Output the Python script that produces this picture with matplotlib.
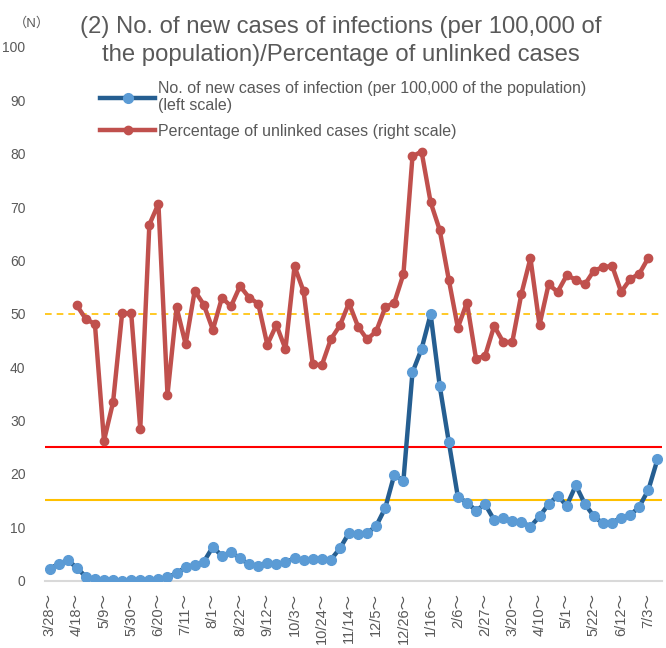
import numpy as np
import matplotlib
matplotlib.use('Agg')
import matplotlib.pyplot as plt
from matplotlib.lines import Line2D

plt.rcParams['font.family'] = ['Liberation Sans', 'Noto Sans CJK JP', 'DejaVu Sans']
plt.rcParams['font.size'] = 10

nan = np.nan

# new cases per 100,000 (left scale), weekly from 3/28
new_cases = [2.2, 3.1, 3.8, 2.4, 0.7, 0.3, 0.1, 0.1, 0.0, 0.05,
             0.1, 0.05, 0.2, 0.6, 1.35, 2.5, 2.9, 3.5, 6.3, 4.6,
             5.35, 4.15, 3.0, 2.8, 3.35, 3.0, 3.4, 4.15, 3.8, 4.0,
             4.1, 3.9, 6.0, 8.9, 8.65, 8.9, 10.2, 13.6, 19.85, 18.7,
             39.0, 43.4, 49.9, 36.5, 26.0, 15.7, 14.6, 13.1, 14.3, 11.35,
             11.65, 11.15, 11.0, 10.1, 12.0, 14.3, 15.9, 14.0, 17.85, 14.35,
             12.0, 10.7, 10.85, 11.8, 12.2, 13.85, 17.0, 22.7]

# percentage of unlinked cases (right scale)
unlinked_pct = [nan, nan, nan, 51.6, 49.0, 48.1, 26.2, 33.4, 50.1, 50.1,
                28.4, 66.7, 70.6, 34.8, 51.2, 44.3, 54.3, 51.7, 47.0, 53.0,
                51.4, 55.2, 53.0, 51.9, 44.2, 47.9, 43.4, 58.9, 54.2, 40.6,
                40.3, 45.2, 47.8, 52.0, 47.6, 45.2, 46.7, 51.2, 52.1, 57.4,
                79.5, 80.4, 70.9, 65.7, 56.4, 47.4, 52.1, 41.6, 42.1, 47.7,
                44.7, 44.7, 53.7, 60.4, 47.9, 55.5, 54.1, 57.2, 56.4, 55.5,
                58.1, 58.7, 59.0, 54.1, 56.5, 57.5, 60.5, nan]

# labels shown on the x axis (every third week)
tick_labels = ['3/28', '4/18', '5/9', '5/30', '6/20', '7/11', '8/1', '8/22',
               '9/12', '10/3', '10/24', '11/14', '12/5', '12/26', '1/16', '2/6',
               '2/27', '3/20', '4/10', '5/1', '5/22', '6/12', '7/3']

# reference lines
red_level = 25
yellow_level = 15
dashed_level = 50

text_col = '#595959'
blue_line = '#255E91'
blue_mark = '#5B9BD5'
red_col = '#C0504D'

fig = plt.figure(figsize=(6.66, 6.48), dpi=100)
ax = fig.add_axes([45 / 666, 1 - 580.5 / 648, 617 / 666, 533.5 / 648])

x = np.arange(len(new_cases))

ax.axhline(red_level, color='#FF0000', linewidth=1.5, zorder=1)
ax.axhline(yellow_level, color='#FFC000', linewidth=1.5, zorder=1)
ax.axhline(dashed_level, color='#FFC000', linewidth=1.2, linestyle=(0, (4, 3)), zorder=1)

ax.plot(x, new_cases, color=blue_line, linewidth=3.2, marker='o',
        markersize=7, markerfacecolor=blue_mark, markeredgecolor=blue_mark, zorder=3)
ax.plot(x, unlinked_pct, color=red_col, linewidth=3.2, marker='o',
        markersize=6, markerfacecolor=red_col, markeredgecolor=red_col, zorder=4)

ax.set_xlim(-0.5, len(new_cases) - 0.5)
ax.set_ylim(0, 100)
ax.set_yticks(np.arange(0, 101, 10))
ax.tick_params(axis='y', length=0, pad=14, colors=text_col, labelsize=10)

ax.set_xticks(x[::3][:len(tick_labels)])
ax.set_xticklabels([t + '～' for t in tick_labels], rotation=90, va='top', ha='center')
ax.tick_params(axis='x', length=0, pad=9, colors=text_col, labelsize=10.5)

for s in ['top', 'right', 'left']:
    ax.spines[s].set_visible(False)
ax.spines['bottom'].set_color('#D9D9D9')
ax.spines['bottom'].set_linewidth(1.5)

# title and unit
fig.text(341 / 666, 1 - 41 / 648,
         '(2) No. of new cases of infections (per 100,000 of\nthe population)/Percentage of unlinked cases',
         ha='center', va='center', fontsize=17.2, color=text_col, linespacing=1.3)
fig.text(32 / 666, 1 - 23 / 648, '（N）', ha='center', va='center', fontsize=9.5, color=text_col)

# legend
handles = [Line2D([], [], color=blue_line, linewidth=3.2, marker='o', markersize=7,
                  markerfacecolor=blue_mark, markeredgecolor=blue_mark),
           Line2D([], [], color=red_col, linewidth=3.2, marker='o', markersize=6,
                  markerfacecolor=red_col, markeredgecolor=red_col)]
labels = ['No. of new cases of infection (per 100,000 of the population)\n(left scale)',
          'Percentage of unlinked cases (right scale)']
fig.legend(handles, labels, loc='upper left', bbox_to_anchor=(92 / 666, 1 - 73 / 648),
           frameon=False, borderpad=0, handlelength=3.45, handletextpad=0.2,
           labelspacing=0.65, fontsize=11.5, labelcolor=text_col)

fig.savefig('out.png', dpi=100)
